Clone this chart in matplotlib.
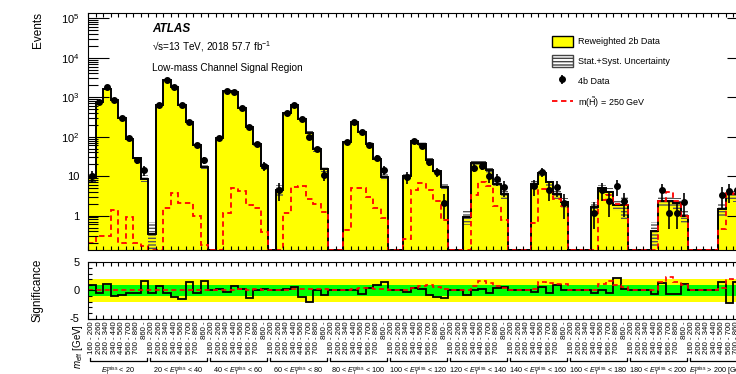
import numpy as np
import matplotlib
matplotlib.use('Agg')
import matplotlib.pyplot as plt
import matplotlib.transforms as mtransforms
from matplotlib.patches import Patch
from matplotlib.lines import Line2D

plt.rcParams['font.family'] = ['Liberation Sans', 'DejaVu Sans']
plt.rcParams['mathtext.fontset'] = 'custom'
plt.rcParams['mathtext.rm'] = 'Liberation Sans'
plt.rcParams['mathtext.it'] = 'Liberation Sans:italic'
plt.rcParams['mathtext.bf'] = 'Liberation Sans:bold'

# m_eff bins inside every MET slice
meff_bins = ['160 - 200', '200 - 260', '260 - 340', '340 - 440',
             '440 - 560', '560 - 700', '700 - 860', '860 -']
met = r'$E_{\mathrm{T}}^{\mathrm{miss}}$'
met_labels = [met + ' < 20', '20 < ' + met + ' < 40', '40 < ' + met + ' < 60',
              '60 < ' + met + ' < 80', '80 < ' + met + ' < 100',
              '100 < ' + met + ' < 120', '120 < ' + met + ' < 140',
              '140 < ' + met + ' < 160', '160 < ' + met + ' < 180',
              '180 < ' + met + ' < 200', met + ' > 200 [GeV]']

# reweighted 2b data (one row per MET slice), 0 = empty bin
bkg = [
    [9, 750, 1600, 860, 295, 89, 29, 8.7],
    [0.34, 645, 2750, 1780, 645, 235, 60, 17],
    [0, 92, 1480, 1380, 530, 174, 66, 18],
    [0, 4.5, 405, 635, 277, 126, 48, 15],
    [0, 0, 75, 230, 128, 65, 28, 9.6],
    [0, 0, 10, 80, 65, 26, 13.5, 5.3],
    [0, 0, 0.95, 22, 22, 14, 6.5, 3.6],
    [0, 0, 0, 6.5, 12, 7, 3.6, 2.2],
    [0, 0, 0, 1.7, 4.9, 4, 1.9, 1.9],
    [0, 0, 0, 0.42, 2.4, 2.4, 2.1, 1.0],
    [0, 0, 0, 0, 1.5, 3.6, 3.5, 2.5],
]
# relative stat+syst uncertainty on the 2b prediction
unc = [
    [0.3, 0.05, 0.04, 0.05, 0.06, 0.1, 0.15, 0.2],
    [1.0, 0.05, 0.04, 0.04, 0.05, 0.07, 0.1, 0.15],
    [0, 0.1, 0.04, 0.04, 0.05, 0.07, 0.1, 0.15],
    [0, 0.3, 0.05, 0.05, 0.06, 0.08, 0.12, 0.15],
    [0, 0, 0.1, 0.06, 0.07, 0.1, 0.12, 0.2],
    [0, 0, 0.2, 0.1, 0.1, 0.12, 0.15, 0.2],
    [0, 0, 0.4, 0.15, 0.12, 0.15, 0.2, 0.25],
    [0, 0, 0, 0.2, 0.15, 0.2, 0.25, 0.3],
    [0, 0, 0, 0.3, 0.2, 0.25, 0.3, 0.6],
    [0, 0, 0, 0.6, 0.3, 0.3, 0.35, 0.4],
    [0, 0, 0, 0, 0.4, 0.3, 0.35, 0.4],
]
# 4b data, nan = no point
nan = np.nan
data = [
    [10, 780, 1870, 860, 295, 92, 25, 14],
    [nan, 645, 2750, 1780, 645, 235, 60, 25],
    [nan, 92, 1480, 1380, 530, 174, 66, 18],
    [nan, 4.5, 405, 635, 277, 100, 48, 10.7],
    [nan, nan, 74, 230, 128, 62, 29, 14.4],
    [nan, nan, 9.5, 80, 58, 23, 13, 2.1],
    [nan, nan, nan, 16.5, 18.5, 10, 8.4, 5.3],
    [nan, nan, nan, 5.6, 13, 4.5, 5.3, 2.1],
    [nan, nan, nan, 1.15, 4.5, 2.3, 5.5, 2.3],
    [nan, nan, nan, nan, 4.4, 1.15, 1.15, 2.25],
    [nan, nan, nan, nan, 3.4, 4.2, 4.5, 3.0],
]
# m(Higgsino) = 250 GeV signal
signal = [
    [0.2, 0.3, 0.3, 1.4, 0.2, 0.9, 0.2, 0.17],
    [0, 0, 1.6, 3.8, 2.1, 2.1, 1.0, 0.18],
    [0, 0, 1.15, 5.0, 4.1, 1.9, 1.55, 0.38],
    [0, 0, 1.2, 5.3, 5.5, 2.6, 1.95, 1.25],
    [0, 0, 0.44, 5.0, 5.1, 2.9, 1.6, 0.86],
    [0, 0, 0.25, 4.4, 6.6, 4.4, 2.3, 0.78],
    [0, 0, 0, 3.3, 7.3, 5.5, 1.8, 0.78],
    [0, 0, 0, 0.67, 4.8, 4.0, 2.6, 1.75],
    [0, 0, 0, 0, 2.5, 3.4, 2.0, 1.9],
    [0, 0, 0, 0, 2.4, 4.0, 2.3, 1.0],
    [0, 0, 0, 0, 0.45, 3.8, 3.5, 2.5],
]
# significance of 4b data vs 2b prediction
signif = [
    [1.0, -0.5, 1.2, -1.0, -0.8, -0.5, -0.4, 1.6],
    [-0.5, 0.85, -0.5, -1.1, -1.6, 1.5, -0.5, 1.75],
    [0, 0.2, -0.3, 0.7, 0.3, -1.3, 0.1, 0.2],
    [0, 0.1, 0.2, 0.6, -1.1, -2.0, 0, -0.8],
    [0, 0, 0, 0.1, -0.7, 0.5, 1.0, 1.5],
    [0, 0, -0.3, 0.4, 0.3, -0.8, -1.1, -1.4],
    [0, 0, -0.8, 0.1, 0.2, -0.4, 0.5, 0.6],
    [0, 0, 0, -0.2, 0.6, -0.5, 1.0, 0.1],
    [0, 0, 0, -0.4, 0, -0.4, 2.2, 0.2],
    [0, 0, 0, -0.7, 1.3, -0.6, -0.6, 1.1],
    [0, 0, 0, 0, 1.5, -2.3, 1.5, 0],
]
# expected signal significance
signif_sig = [
    [0, 0, 0, 0, 0, 0, 0, 0],
    [0, 0, 0, 0.1, 0.1, 0.1, 0.1, 0],
    [0, 0, 0, 0.1, 0.2, 0.1, 0.2, 0.1],
    [0, 0, 0, 0.2, 0.3, 0.2, 0.3, 0.3],
    [0, 0, 0, 0.3, 0.4, 0.4, 0.3, 0.3],
    [0, 0, 0.1, 0.5, 0.8, 0.9, 0.6, 0.3],
    [0, 0, 0, 0.7, 1.6, 1.4, 0.7, 0.4],
    [0, 0, 0, 0.3, 1.5, 1.3, 1.2, 1.1],
    [0, 0, 0, 0, 1.1, 1.7, 1.0, 0.6],
    [0, 0, 0, 0, 1.5, 2.4, 1.5, 1.0],
    [0, 0, 0, 0, 0.4, 2.0, 1.9, 1.5],
]

ymin, ymax = 0.135, 1.34e5
b = np.array(bkg, dtype=float).ravel()
u = np.array(unc, dtype=float).ravel()
d = np.array(data, dtype=float).ravel()
s = np.array(signal, dtype=float).ravel()
z = np.array(signif, dtype=float).ravel()
zs = np.array(signif_sig, dtype=float).ravel()
nb = len(b)
edges = np.arange(nb + 1)
centers = edges[:-1] + 0.5

fig = plt.figure(figsize=(7.36, 3.74), dpi=100)
ax = fig.add_axes([88 / 736, 1 - 250 / 374, 660 / 736, 236.7 / 374])
ax2 = fig.add_axes([88 / 736, 1 - 318.5 / 374, 660 / 736, 56.2 / 374])

# --- main panel
bd = np.clip(b, ymin, None)
ax.stairs(bd, edges, fill=True, facecolor='#ffff00', baseline=ymin)
ok = b > 0
lo = np.clip(b * (1 - u), ymin, None)
hi = b * (1 + u)
ax.bar(centers[ok], (hi - lo)[ok], bottom=lo[ok], width=1, fill=False,
       hatch='-----', edgecolor='#555555', linewidth=0)
ax.stairs(bd, edges, color='black', linewidth=1.4, baseline=ymin)
ax.stairs(np.clip(s, ymin, None), edges, color='red', linewidth=1.3,
          linestyle=(0, (3, 2)), baseline=None)
m = ~np.isnan(d)
err = np.sqrt(d[m])
err_lo = np.minimum(err, 0.6 * d[m])
dat = ax.errorbar(centers[m], d[m], yerr=[err_lo, err], fmt='o', color='black',
                  ms=4, elinewidth=1.2, capsize=0)

ax.set_yscale('log')
ax.set_xlim(0, nb)
ax.set_ylim(ymin, ymax)
ax.set_yticks([1, 10, 100, 1e3, 1e4, 1e5])
ax.set_yticklabels(['1', '10', r'$10^2$', r'$10^3$', r'$10^4$', r'$10^5$'], fontsize=8)
ax.set_xticks([])
ax.set_xticks(edges, minor=True)
ax.tick_params(axis='y', which='major', direction='in', length=15, width=0.8,
               right=True, pad=6)
ax.tick_params(axis='y', which='minor', direction='in', length=7.5, width=0.8, right=True)
ax.tick_params(axis='x', which='minor', direction='in', length=3, width=0.8,
               top=True, bottom=True)
ax.yaxis.set_minor_formatter(plt.NullFormatter())

ax.text(0.097, 0.934, 'ATLAS', transform=ax.transAxes, fontsize=8.5,
        fontweight='bold', fontstyle='italic', va='center')
ax.text(0.097, 0.858, '\u221as=13 TeV, 2018 57.7 fb$^{-1}$',
        transform=ax.transAxes, fontsize=7.2, va='center')
ax.text(0.097, 0.769, 'Low-mass Channel Signal Region', transform=ax.transAxes,
        fontsize=7.2, va='center')

handles = [Patch(facecolor='#ffff00', edgecolor='black', linewidth=1),
           Patch(facecolor='white', edgecolor='#444444', hatch='-----', linewidth=1),
           dat,
           Line2D([], [], color='red', linestyle=(0, (3, 2)), linewidth=1.3)]
labels = ['Reweighted 2b Data', 'Stat.+Syst. Uncertainty', '4b Data',
          r'm($\mathrm{\tilde{H}}$) = 250 GeV']
ax.legend(handles, labels, loc='upper left', bbox_to_anchor=(0.703, 0.906),
          frameon=False, fontsize=6.5, handlelength=2.3, handleheight=1.6,
          labelspacing=0.9, handletextpad=0.6, borderpad=0, borderaxespad=0)

# --- significance panel
ax2.axhspan(-2, 2, color='#ffff00', lw=0)
ax2.axhspan(-1, 1, color='#00ff00', lw=0)
ax2.stairs(z, edges, color='black', linewidth=1.3, baseline=None)
ax2.stairs(zs, edges, color='red', linewidth=1.2, linestyle=(0, (3, 2)), baseline=None)
ax2.set_xlim(0, nb)
ax2.set_ylim(-5, 5)
ax2.set_yticks([-5, 0, 5])
ax2.set_yticklabels(['-5', '0', '5'], fontsize=8)
ax2.set_yticks(np.arange(-5, 6), minor=True)
ax2.set_xticks(centers)
ax2.set_xticklabels(meff_bins * 11, rotation=90, fontsize=5.6)
ax2.set_xticks(edges, minor=True)
ax2.tick_params(axis='x', which='major', length=0, pad=2)
ax2.tick_params(axis='x', which='minor', direction='in', length=3, width=0.8,
                top=True, bottom=True)
ax2.tick_params(axis='y', which='major', direction='in', length=6, width=0.8,
                right=True, pad=6)
ax2.tick_params(axis='y', which='minor', direction='in', length=3, width=0.8, right=True)

# brackets and MET slice names under the tick labels
tr = mtransforms.blended_transform_factory(ax2.transData, ax2.transAxes)
for r, lab in enumerate(met_labels):
    x0, x1 = 8 * r + 0.3, 8 * r + 7.8
    ax2.plot([x0, x0, x1, x1], [-0.70, -0.756, -0.756, -0.70], color='black',
             lw=0.9, transform=tr, clip_on=False)
    ax2.text(8 * r + 4, -0.83, lab, transform=tr, ha='center', va='top', fontsize=5.2)

fig.text(38 / 736, 1 - 12 / 374, 'Events', rotation=90, ha='center', va='top', fontsize=8.5)
fig.text(37 / 736, 1 - 290 / 374, 'Significance', rotation=90, ha='center',
         va='center', fontsize=8.5)
fig.text(78 / 736, 1 - 324 / 374, r'$m_{\mathrm{eff}}$ [GeV]', rotation=90,
         ha='center', va='top', fontsize=7)

fig.savefig('out.png', dpi=100)
